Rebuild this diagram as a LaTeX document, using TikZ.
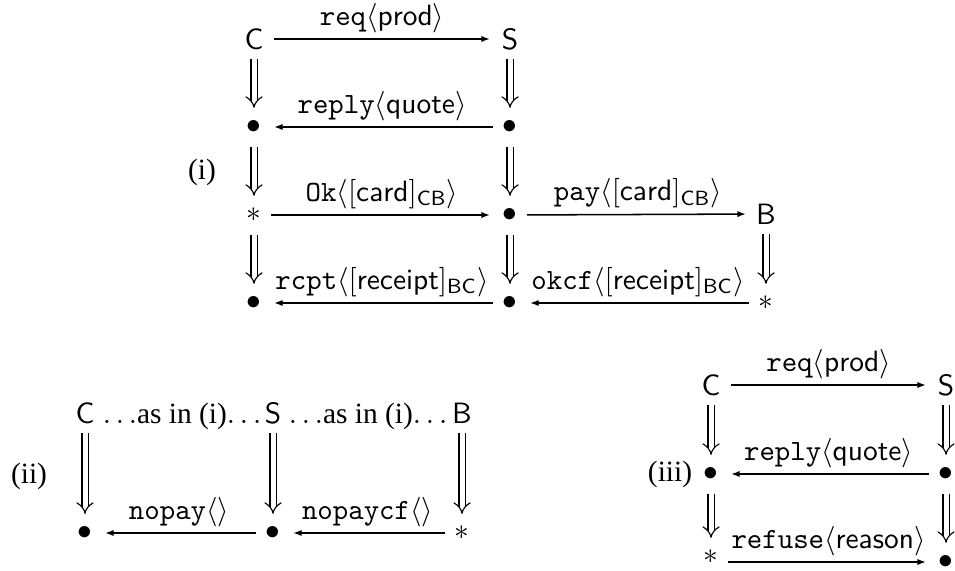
\documentclass[tikz,border=0pt]{standalone}
\usepackage{fontspec}
\setmainfont{Liberation Serif}
\usetikzlibrary{arrows.meta}
\tikzset{
  obj/.style={inner sep=0pt, font=\sffamily},
  pnt/.style={inner sep=0pt},
  msg/.style={line width=0.52pt, -{Latex[length=2.9pt,width=2.1pt]}, shorten <=5.8pt, shorten >=6.8pt},
  msgL/.style={msg, shorten <=6.8pt},
  evol/.style={double, double distance=1.7pt, line width=0.38pt, -{Implies[scale=1.25]}, shorten <=6.8pt, shorten >=6.5pt},
  lbl/.style={midway, anchor=south, inner sep=0pt, yshift=1.9pt, font=\ttfamily},
  tag/.style={inner sep=0pt}
}
\begin{document}
\begin{tikzpicture}[x=0.34pt, y=-0.34pt]
\useasboundingbox (0,0) rectangle (955,571);
% ---------- (i)
\node[obj] (c1) at (254,39) {C};
\node[obj] (s1) at (510,39) {S};
\node[pnt] (c2) at (254,127) {$\bullet$};
\node[pnt] (s2) at (510,127) {$\bullet$};
\node[pnt] (c3) at (254,215) {$*$};
\node[pnt] (s3) at (510,215) {$\bullet$};
\node[obj] (b3) at (766,214) {B};
\node[pnt] (c4) at (254,303) {$\bullet$};
\node[pnt] (s4) at (510,303) {$\bullet$};
\node[pnt] (b4) at (766,303) {$*$};
\node[tag] (ti) at (202,172) {(i)};

\draw[msgL] (c1.center) -- node[lbl]{req$\langle\mathsf{prod}\rangle$} (s1.center);
\draw[msg] (s2.center) -- node[lbl]{reply$\langle\mathsf{quote}\rangle$} (c2.center);
\draw[msg] (c3.center) -- node[lbl]{Ok$\langle[\mathsf{card}]_{\mathsf{CB}}\rangle$} (s3.center);
\draw[msg] (s3.center) -- node[lbl]{pay$\langle[\mathsf{card}]_{\mathsf{CB}}\rangle$} (b3.center);
\draw[msg] (s4.center) -- node[lbl]{rcpt$\langle[\mathsf{receipt}]_{\mathsf{BC}}\rangle$} (c4.center);
\draw[msg] (b4.center) -- node[lbl]{okcf$\langle[\mathsf{receipt}]_{\mathsf{BC}}\rangle$} (s4.center);

\draw[evol] (c1.center) -- (c2.center);
\draw[evol] (c2.center) -- (c3.center);
\draw[evol] (c3.center) -- (c4.center);
\draw[evol] (s1.center) -- (s2.center);
\draw[evol] (s2.center) -- (s3.center);
\draw[evol] (s3.center) -- (s4.center);
\draw[evol] (b3.center) -- (b4.center);

% ---------- (ii)
\node[obj] (c5) at (85,413) {C};
\node[obj] (s5) at (273,413) {S};
\node[obj] (b5) at (462,413) {B};
\node[tag, anchor=base] (d1) at (182,0 |- c5.base) {$\ldots$as in (i)$\ldots$};
\node[tag, anchor=base] (d2) at (368,0 |- c5.base) {$\ldots$as in (i)$\ldots$};
\node[pnt] (c6) at (85,533) {$\bullet$};
\node[pnt] (s6) at (273,533) {$\bullet$};
\node[pnt] (b6) at (462,533) {$*$};
\node[tag] (tii) at (29,476) {(ii)};

\draw[msg] (s6.center) -- node[lbl]{nopay$\langle\rangle$} (c6.center);
\draw[msg] (b6.center) -- node[lbl]{nopaycf$\langle\rangle$} (s6.center);
\draw[evol] (c5.center) -- (c6.center);
\draw[evol] (s5.center) -- (s6.center);
\draw[evol] (b5.center) -- (b6.center);

% ---------- (iii)
\node[obj] (c7) at (711,385) {C};
\node[obj] (s7) at (946,385) {S};
\node[pnt] (c8) at (711,474) {$\bullet$};
\node[pnt] (s8) at (946,474) {$\bullet$};
\node[pnt] (c9) at (711,557) {$*$};
\node[pnt] (s9) at (946,562) {$\bullet$};
\node[tag] (tiii) at (670,474) {(iii)};

\draw[msgL] (c7.center) -- node[lbl]{req$\langle\mathsf{prod}\rangle$} (s7.center);
\draw[msg] (s8.center) -- node[lbl]{reply$\langle\mathsf{quote}\rangle$} (c8.center);
\draw[msg] (c9.center |- s9.center) -- node[lbl]{refuse$\langle\mathsf{reason}\rangle$} (s9.center);
\draw[evol] (c7.center) -- (c8.center);
\draw[evol] (c8.center) -- (c9.center);
\draw[evol] (s7.center) -- (s8.center);
\draw[evol] (s8.center) -- (s9.center);
\end{tikzpicture}
\end{document}
